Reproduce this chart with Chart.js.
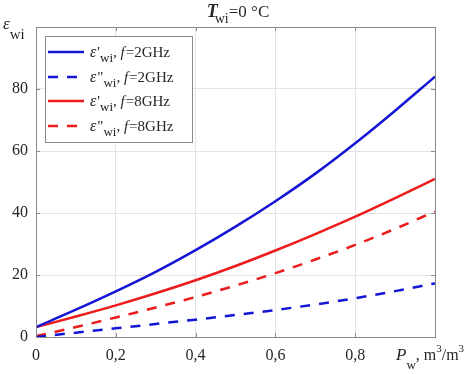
<!DOCTYPE html>
<html>
<head>
<meta charset="utf-8">
<script src="https://cdn.jsdelivr.net/npm/chart.js@4"></script>
<style>
html, body { margin: 0; padding: 0; background: #fff; }
#wrap { width: 473px; height: 374px; }
</style>
</head>
<body>
<div id="wrap"><canvas id="chart"></canvas></div>
<script>
// water volume fraction, m3/m3
const pw = [0, 0.1, 0.2, 0.3, 0.4, 0.5, 0.6, 0.7, 0.8, 0.9, 1.0];
// permittivity of water inclusions
const epsRe2 = [3.2, 8.8, 14.7, 21.0, 28.0, 35.6, 43.8, 52.7, 62.5, 73.0, 84.0];
const epsIm2 = [0, 1.4, 2.8, 4.2, 5.6, 7.1, 8.7, 10.5, 12.5, 14.8, 17.3];
const epsRe8 = [3.2, 6.6, 10.2, 14.1, 18.3, 22.9, 27.9, 33.2, 38.8, 44.8, 51.0];
const epsIm8 = [0.3, 3.2, 6.3, 9.5, 12.9, 16.6, 20.6, 25.0, 29.7, 34.9, 40.5];
const xTickLabels = ['0', '0,2', '0,4', '0,6', '0,8', ''];
const yTickLabels = ['0', '20', '40', '60', '80', ''];
const legendMarks = ["'", '"', "'", '"'];
const legendFreqs = ['=2GHz', '=2GHz', '=8GHz', '=8GHz'];

const SERIF = '"Liberation Serif", "DejaVu Serif", serif';
const BLUE = '#1515d6';
const RED = '#ec1c1c';
const TXT = '#262626';

function pts(ys) {
    return pw.map((x, i) => ({ x: x, y: ys[i] }));
}

function rich(ctx, x, y, parts, align) {
    let w = 0;
    parts.forEach(p => { ctx.font = p.f; p.w = ctx.measureText(p.t).width; w += p.w + (p.gap || 0); });
    let cx = align === 'center' ? x - w / 2 : x;
    parts.forEach(p => {
        ctx.font = p.f;
        ctx.fillText(p.t, cx, y + (p.dy || 0));
        cx += p.w + (p.gap || 0);
    });
}

const decor = {
    id: 'decor',
    beforeDraw: (chart) => {
        const ctx = chart.ctx;
        ctx.save();
        ctx.fillStyle = '#fff';
        ctx.fillRect(0, 0, chart.width, chart.height);
        ctx.restore();
    },
    afterDraw: (chart) => {
        const ctx = chart.ctx;
        const a = chart.chartArea;
        const sx = chart.scales.x, sy = chart.scales.y;
        ctx.save();
        // axes box
        ctx.strokeStyle = '#8a8a8a';
        ctx.lineWidth = 1;
        ctx.strokeRect(Math.round(a.left) + 0.5, Math.round(a.top) + 0.5,
            Math.round(a.right - a.left), Math.round(a.bottom - a.top));
        // inward ticks on all four sides
        ctx.beginPath();
        for (let v = 0; v <= 1.0001; v += 0.2) {
            const px = Math.round(sx.getPixelForValue(v)) + 0.5;
            ctx.moveTo(px, a.bottom); ctx.lineTo(px, a.bottom - 4);
            ctx.moveTo(px, a.top); ctx.lineTo(px, a.top + 4);
        }
        for (let v = 0; v <= 100; v += 20) {
            const py = Math.round(sy.getPixelForValue(v)) + 0.5;
            ctx.moveTo(a.left, py); ctx.lineTo(a.left + 4, py);
            ctx.moveTo(a.right, py); ctx.lineTo(a.right - 4, py);
        }
        ctx.stroke();

        ctx.fillStyle = TXT;
        ctx.textBaseline = 'alphabetic';
        ctx.textAlign = 'left';
        // title
        rich(ctx, 238, 17, [
            { t: 'T', f: 'bold italic 18px ' + SERIF, gap: -3 },
            { t: 'wi', f: '14px ' + SERIF, dy: 6 },
            { t: '=0 °C', f: '17px ' + SERIF }
        ], 'center');
        // y axis label
        rich(ctx, 3, 29, [
            { t: 'ε', f: 'italic 17px ' + SERIF },
            { t: 'wi', f: '15px ' + SERIF, dy: 10 }
        ]);
        // x axis label
        rich(ctx, 396, 360, [
            { t: 'P', f: 'italic 17px ' + SERIF },
            { t: 'w', f: '13px ' + SERIF, dy: 9 },
            { t: ', m', f: '16px ' + SERIF },
            { t: '3', f: '11px ' + SERIF, dy: -8 },
            { t: '/m', f: '16px ' + SERIF },
            { t: '3', f: '11px ' + SERIF, dy: -8 }
        ]);

        // legend
        const lx = 45, ly = 36, lw = 147, lh = 106;
        ctx.fillStyle = '#fff';
        ctx.fillRect(lx, ly, lw, lh);
        ctx.strokeStyle = '#8a8a8a';
        ctx.strokeRect(lx + 0.5, ly + 0.5, lw, lh);
        const rows = [52, 77, 101, 126];
        chart.data.datasets.forEach((ds, i) => {
            const yy = rows[i];
            ctx.strokeStyle = ds.borderColor;
            ctx.lineWidth = ds.borderWidth;
            ctx.setLineDash(ds.borderDash || []);
            ctx.beginPath();
            ctx.moveTo(48, yy); ctx.lineTo(84, yy);
            ctx.stroke();
            ctx.setLineDash([]);
            ctx.fillStyle = TXT;
            rich(ctx, 90, yy + 5, [
                { t: 'ε', f: 'italic 16px ' + SERIF, gap: 1 },
                { t: legendMarks[i], f: '15px ' + SERIF },
                { t: 'wi', f: '13px ' + SERIF, dy: 5 },
                { t: ', ', f: '15px ' + SERIF },
                { t: 'f', f: 'italic 15px ' + SERIF, gap: 1 },
                { t: legendFreqs[i], f: '15px ' + SERIF }
            ]);
        });
        ctx.restore();
    }
};

const chart = new Chart(document.getElementById('chart'), {
    type: 'line',
    data: {
        datasets: [
            { label: "ε'wi, f=2GHz", data: pts(epsRe2), borderColor: BLUE, borderWidth: 2.5 },
            { label: 'ε"wi, f=2GHz', data: pts(epsIm2), borderColor: BLUE, borderWidth: 2.5, borderDash: [10, 9] },
            { label: "ε'wi, f=8GHz", data: pts(epsRe8), borderColor: RED, borderWidth: 2.5 },
            { label: 'ε"wi, f=8GHz', data: pts(epsIm8), borderColor: RED, borderWidth: 2.5, borderDash: [10, 9] }
        ]
    },
    options: {
        animation: false,
        responsive: true,
        maintainAspectRatio: false,
        devicePixelRatio: 1,
        layout: { padding: { top: 27, right: 38, left: 0, bottom: 0 } },
        elements: {
            point: { radius: 0 },
            line: { tension: 0.4, cubicInterpolationMode: 'monotone', fill: false }
        },
        plugins: {
            legend: { display: false },
            title: { display: false },
            tooltip: { enabled: false }
        },
        scales: {
            x: {
                type: 'linear',
                min: 0,
                max: 1,
                afterFit: (s) => { s.height = 37; },
                grid: { color: '#e4e4e4', drawTicks: false },
                border: { display: false },
                ticks: {
                    stepSize: 0.2,
                    padding: 9,
                    color: TXT,
                    font: { family: SERIF, size: 16 },
                    maxRotation: 0,
                    callback: (v, i) => xTickLabels[i]
                }
            },
            y: {
                type: 'linear',
                min: 0,
                max: 100,
                afterFit: (s) => { s.width = 36; },
                grid: { color: '#e4e4e4', drawTicks: false },
                border: { display: false },
                ticks: {
                    stepSize: 20,
                    padding: 8,
                    color: TXT,
                    font: { family: SERIF, size: 16 },
                    callback: (v, i) => yTickLabels[i]
                }
            }
        }
    },
    plugins: [decor]
});
</script>
</body>
</html>
